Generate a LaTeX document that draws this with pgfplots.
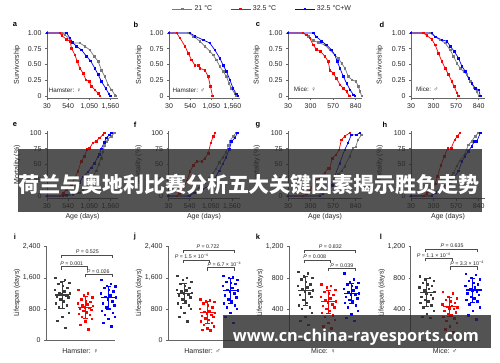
\documentclass[border=0pt]{standalone}
\usepackage{graphicx}
\usepackage{pgfplots}
\pgfplotsset{compat=1.18}
\usepackage{pgfplotstable}
\usepackage{fontspec}
\setmainfont{Liberation Sans}
\newfontfamily\cjk{Noto Sans CJK SC}
\newfontfamily\urlf{Open Sans}
\definecolor{cg}{RGB}{120,120,120}
\definecolor{cgd}{RGB}{60,60,60}
\definecolor{cr}{RGB}{255,0,0}
\definecolor{cb}{RGB}{0,0,255}
\definecolor{band}{RGB}{40,40,40}
\newcommand{\tf}{\fontsize{7}{7.5}\selectfont}
\pgfplotsset{
 base/.style={scale only axis, anchor=south west, axis lines*=left,
   axis line style={black!60, line width=0.5pt}, tick style={black!60, line width=0.5pt},
   major tick length=2pt, tick align=outside,
   ticklabel style={font=\tf, text=black!85},
   /pgf/number format/assume math mode=true,
   every axis y label/.style={at={(axis description cs:-0.42,0.5)}, rotate=90, anchor=center, font=\tf, text=black!85},
   every axis x label/.style={at={(axis description cs:0.5,-0.27)}, anchor=center, font=\tf, text=black!85}},
 sl/.style={line width=0.7pt, mark=square*, mark size=0.75pt, mark options={solid}},
 gr/.style={sl, color=cg},
 rd/.style={sl, color=cr},
 bl/.style={sl, color=cb},
 surv/.style={base, height=67.4pt, ymin=-0.04, ymax=1.03, ytick={0,0.25,0.5,0.75,1}, yticklabels={0,0.25,0.50,0.75,1.00}, ylabel={Survivorship}},
 mort/.style={base, height=67.4pt, ymin=-4, ymax=103, ytick={0,25,50,75,100}, ylabel={Mortality (\%)}, xlabel={Age (days)}},
 ham/.style={width=71pt, xmin=30, xmax=1741, xtick={30,540,1050,1560}, xticklabels={30,540,{1,050},{1,560}}},
 mice/.style={width=74pt, xmin=30, xmax=916, xtick={30,300,570,840}},
 life/.style={base, width=69pt, height=94pt, xmin=0, xmax=3, xtick=\empty, ymin=0, ylabel={Lifespan (days)}, clip=false,
   every axis x label/.style={at={(axis description cs:0.5,-0.117)}, anchor=center, font=\tf, text=black!85}},
 big/.style={ymax=2418, ytick={0,800,1600,2400}, yticklabels={0,800,{1,600},{2,400}}},
 small/.style={ymax=1209, ytick={0,400,800,1200}, yticklabels={0,400,800,{1,200}}},
 dg/.style={only marks, mark=square*, mark size=0.75pt, color=cgd},
 dr/.style={only marks, mark=square*, mark size=0.75pt, color=cr},
 db/.style={only marks, mark=square*, mark size=0.75pt, color=cb},
 mn/.style={only marks, mark=-, mark size=7pt, mark options={line width=1.1pt}},
 sdl/.style={line width=0.7pt, mark=-, mark size=2.5pt, mark options={line width=0.7pt}},
}
\tikzset{br/.style={black!70, line width=0.45pt}, pv/.style={font=\fontsize{5.3}{5.8}\selectfont, anchor=south, inner sep=0.8pt, text=black!85},
 plab/.style={font=\fontsize{7.5}{8}\selectfont\bfseries, anchor=center}, inl/.style={font=\fontsize{6.3}{6.5}\selectfont, anchor=west, inner sep=0.5pt, text=black!85}}

\pgfplotstableread{
j ig ir ib jg jr jb kg kr kb lg lr lb
-0.30 1600 1300 1550 1650 1050 1650 880 720 860 820 620 850
0.12 1550 1200 1450 1600 1030 1620 860 700 780 800 600 840
-0.06 1500 1150 1400 1550 1000 1600 820 680 750 780 560 800
0.31 1480 1100 1380 1500 980 1550 800 650 740 760 540 780
-0.18 1450 1050 1350 1450 950 1500 780 620 720 740 520 760
0.03 1400 1000 1300 1400 900 1480 750 600 700 720 500 740
0.22 1350 980 1250 1350 850 1450 720 580 680 700 480 720
-0.33 1300 950 1200 1300 800 1400 700 560 660 680 460 700
0.09 1250 920 1150 1280 760 1350 680 540 640 660 440 680
-0.12 1220 900 1120 1250 730 1300 660 520 620 640 430 660
0.33 1200 880 1100 1220 700 1280 640 500 600 620 420 650
-0.02 1180 850 1050 1200 680 1250 620 480 590 600 410 640
0.17 1150 830 1000 1180 650 1200 600 460 580 580 400 620
-0.24 1120 800 950 1150 620 1150 580 440 560 560 380 600
0.26 1100 780 900 1100 600 1100 560 420 540 540 360 580
-0.09 1050 750 850 1050 560 1050 520 400 520 520 340 560
0.05 1000 720 800 1000 520 1000 480 380 500 500 320 540
-0.28 950 680 750 950 480 950 450 350 480 480 300 520
0.19 900 650 700 900 450 900 420 320 450 450 280 500
-0.15 850 600 650 850 400 850 400 300 420 420 250 460
0.29 700 550 600 800 350 800 350 260 380 380 220 420
0.00 600 480 550 700 300 700 300 220 330 340 180 380
-0.21 500 400 450 600 270 600 250 180 290 300 140 320
0.14 320 280 350 480 250 450 200 150 250 290 100 270
}\dots

\begin{document}
\begin{tikzpicture}
\fill[white] (0pt,0pt) rectangle (500pt,362pt);

% ---------- row 1 ----------
\begin{axis}[surv, ham, at={(47pt,263.5pt)}, legend columns=3,
  legend style={at={(3.035,1.328)}, anchor=center, draw=none, fill=none, font=\fontsize{7}{8}\selectfont, text=black!85,
    /tikz/every even column/.append style={column sep=16pt}},
  legend image code/.code={\draw[mark repeat=2,mark phase=2,#1] plot coordinates {(0pt,0pt)(10pt,0pt)(20pt,0pt)};}]
\addplot[gr] coordinates {(30,1)(382,1)(462,0.97)(582,0.90)(622,0.84)(822,0.84)(942,0.79)(1062,0.73)(1166,0.63)(1262,0.55)(1342,0.41)(1422,0.31)(1502,0.18)(1582,0.10)(1662,0.02)(1680,0)};
\addplot[rd] coordinates {(30,1)(342,1)(382,0.96)(502,0.90)(582,0.87)(622,0.76)(702,0.65)(758,0.55)(822,0.44)(902,0.36)(966,0.26)(1046,0.23)(1102,0.15)(1182,0.10)(1262,0.04)(1302,0)};
\addplot[bl] coordinates {(30,1)(502,1)(582,0.92)(646,0.85)(742,0.79)(862,0.73)(982,0.63)(1078,0.56)(1182,0.44)(1262,0.34)(1342,0.23)(1446,0.12)(1526,0.03)(1558,0)};
\legend{21 °C, 32.5 °C, 32.5 °C+W}
\node[inl] at (axis description cs:0.015,0.116) {Hamster: ♀};
\end{axis}

\begin{axis}[surv, ham, at={(169pt,263.5pt)}]
\addplot[gr] coordinates {(30,1)(494,1)(614,0.95)(774,0.87)(894,0.79)(1014,0.71)(1094,0.65)(1174,0.57)(1254,0.47)(1334,0.39)(1414,0.31)(1478,0.20)(1534,0.12)(1614,0.04)(1654,0)};
\addplot[rd] coordinates {(30,1)(214,1)(294,0.92)(414,0.79)(494,0.68)(574,0.57)(654,0.49)(734,0.49)(774,0.44)(894,0.41)(974,0.31)(1030,0.15)(1078,0)};
\addplot[bl] coordinates {(30,1)(534,1)(654,0.95)(854,0.89)(1014,0.84)(1134,0.73)(1254,0.60)(1334,0.49)(1414,0.39)(1494,0.26)(1574,0.12)(1654,0.03)(1694,0)};
\node[inl] at (axis description cs:0.04,0.116) {Hamster: ♂};
\end{axis}

\begin{axis}[surv, mice, at={(288pt,263.5pt)}]
\addplot[gr] coordinates {(30,1)(210,1)(271,0.95)(331,0.88)(391,0.85)(471,0.81)(531,0.73)(591,0.65)(632,0.60)(672,0.52)(712,0.44)(752,0.31)(792,0.26)(844,0.23)(872,0.15)(892,0.07)(912,0)};
\addplot[rd] coordinates {(30,1)(210,1)(251,0.97)(291,0.92)(331,0.81)(371,0.74)(419,0.71)(471,0.63)(511,0.55)(531,0.41)(571,0.36)(611,0.28)(652,0.18)(692,0.12)(732,0.07)(764,0)};
\addplot[bl] coordinates {(30,1)(331,1)(371,0.94)(431,0.87)(491,0.81)(551,0.73)(591,0.65)(619,0.55)(652,0.44)(692,0.31)(732,0.20)(772,0.10)(812,0.02)(832,0)};
\node[inl] at (axis description cs:0.07,0.13) {Mice: ♀};
\end{axis}

\begin{axis}[surv, mice, at={(411pt,263.5pt)}]
\addplot[gr] coordinates {(30,1)(259,1)(319,0.94)(379,0.89)(439,0.84)(499,0.73)(539,0.63)(579,0.52)(619,0.44)(660,0.39)(700,0.34)(740,0.23)(780,0.14)(820,0.07)(840,0)};
\addplot[rd] coordinates {(30,1)(178,1)(218,0.96)(279,0.90)(319,0.81)(359,0.68)(399,0.55)(439,0.44)(479,0.34)(519,0.23)(547,0.15)(579,0.05)(599,0)};
\addplot[bl] coordinates {(30,1)(279,1)(319,0.94)(399,0.89)(459,0.87)(499,0.79)(547,0.71)(599,0.60)(640,0.47)(680,0.39)(720,0.28)(760,0.20)(800,0.12)(840,0.10)(860,0)};
\node[inl] at (axis description cs:0.06,0.13) {Mice: ♂};
\end{axis}

% ---------- row 2 ----------
\begin{axis}[mort, ham, at={(47pt,163.5pt)}]
\addplot[gr] coordinates {(30,0)(500,0)(655,2)(815,5)(895,10)(975,15)(1055,22)(1135,30)(1215,40)(1275,50)(1335,60)(1375,70)(1415,80)(1455,86)(1495,90)(1575,95)(1655,100)};
\addplot[rd] coordinates {(30,0)(335,0)(420,4)(495,10)(615,18)(695,28)(775,39)(855,55)(935,63)(991,74)(1055,76)(1135,84)(1215,87)(1295,92)(1375,97)(1415,100)};
\addplot[bl] coordinates {(30,0)(415,0)(500,2)(655,4)(735,10)(815,22)(895,30)(1015,38)(1095,45)(1175,52)(1255,62)(1295,66)(1335,75)(1415,85)(1455,92)(1535,97)(1575,100)};
\end{axis}

\begin{axis}[mort, ham, at={(168.5pt,163.5pt)}]
\addplot[gr] coordinates {(30,0)(494,0)(614,5)(774,13)(894,21)(1014,29)(1094,35)(1174,43)(1254,53)(1334,61)(1414,69)(1478,80)(1510,87)(1590,95)(1654,100)};
\addplot[rd] coordinates {(30,0)(230,0)(290,4)(350,10)(410,16)(470,23)(550,39)(630,49)(710,55)(830,55)(910,60)(990,68)(1046,84)(1110,95)(1150,100)};
\addplot[bl] coordinates {(30,0)(534,0)(654,5)(854,11)(1014,16)(1134,27)(1254,40)(1334,51)(1414,61)(1494,74)(1550,87)(1630,92)(1686,100)};
\end{axis}

\begin{axis}[mort, mice, at={(288pt,163.5pt)}]
\addplot[gr] coordinates {(30,0)(391,0)(431,5)(471,10)(531,18)(591,27)(632,35)(672,40)(708,47)(768,63)(808,76)(840,78)(868,89)(908,97)(928,100)};
\addplot[rd] coordinates {(30,0)(210,0)(251,3)(291,8)(331,19)(371,26)(419,29)(471,37)(511,44)(529,44)(561,60)(601,65)(641,73)(669,89)(708,95)(768,100)};
\addplot[bl] coordinates {(30,0)(410,0)(450,3)(520,10)(560,17)(589,31)(648,52)(708,73)(748,84)(788,97)(848,97)(888,100)};
\end{axis}

\begin{axis}[mort, mice, at={(411pt,163.5pt)}]
\addplot[gr] coordinates {(30,0)(259,0)(319,6)(379,11)(439,16)(499,27)(539,37)(579,48)(614,56)(675,67)(716,81)(757,87)(798,95)(839,100)};
\addplot[rd] coordinates {(30,0)(178,0)(218,4)(279,10)(319,19)(346,31)(388,49)(429,63)(470,76)(511,76)(552,89)(585,95)(614,100)};
\addplot[bl] coordinates {(30,0)(279,0)(319,6)(399,11)(459,13)(499,21)(547,29)(599,40)(640,55)(675,63)(716,71)(757,79)(790,87)(819,87)(860,100)};
\end{axis}

% ---------- row 3 ----------
\begin{axis}[life, big, at={(46pt,22pt)}, xlabel={Hamster: ♀}]
\addplot[dg] table[x expr=\thisrow{j}+0.7, y=ig] {\dots};
\addplot[dr] table[x expr=\thisrow{j}+1.7, y=ir] {\dots};
\addplot[db] table[x expr=\thisrow{j}+2.7, y=ib] {\dots};
\addplot[mn, color=cgd] coordinates {(0.7,1157)};
\addplot[mn, color=cr] coordinates {(1.7,840)};
\addplot[mn, color=cb] coordinates {(2.7,1089)};
\addplot[sdl, color=cgd] coordinates {(0.7,814)(0.7,1500)};
\addplot[sdl, color=cr] coordinates {(1.7,557)(1.7,1114)};
\addplot[sdl, color=cb] coordinates {(2.7,800)(2.7,1380)};
\draw[br] (axis cs:0.65,2110) |- (axis cs:2.9,2186) -- (axis cs:2.9,2110);
\node[pv] at (axis cs:1.8,2186) {\textit{P} = 0.525};
\draw[br] (axis cs:0.65,1810) |- (axis cs:1.8,1886) -- (axis cs:1.8,1810);
\node[pv] at (axis cs:1.12,1886) {\textit{P} = 0.001};
\draw[br] (axis cs:1.7,1613) |- (axis cs:2.9,1689) -- (axis cs:2.9,1613);
\node[pv] at (axis cs:2.27,1689) {\textit{P} = 0.026};
\end{axis}

\begin{axis}[life, big, at={(168pt,22pt)}, xlabel={Hamster: ♂}]
\addplot[dg] table[x expr=\thisrow{j}+0.7, y=jg] {\dots};
\addplot[dr] table[x expr=\thisrow{j}+1.7, y=jr] {\dots};
\addplot[db] table[x expr=\thisrow{j}+2.7, y=jb] {\dots};
\addplot[mn, color=cgd] coordinates {(0.7,1200)};
\addplot[mn, color=cr] coordinates {(1.7,711)};
\addplot[mn, color=cb] coordinates {(2.7,1269)};
\addplot[sdl, color=cgd] coordinates {(0.7,940)(0.7,1460)};
\addplot[sdl, color=cr] coordinates {(1.7,426)(1.7,996)};
\addplot[sdl, color=cb] coordinates {(2.7,949)(2.7,1589)};
\draw[br] (axis cs:0.65,2238) |- (axis cs:2.9,2314) -- (axis cs:2.9,2238);
\node[pv] at (axis cs:1.74,2314) {\textit{P} = 0.722};
\draw[br] (axis cs:0.65,1981) |- (axis cs:1.8,2057) -- (axis cs:1.8,1981);
\node[pv] at (axis cs:1.03,2057) {\textit{P} = 1.5 × 10\textsuperscript{−4}};
\draw[br] (axis cs:1.7,1784) |- (axis cs:2.9,1860) -- (axis cs:2.9,1784);
\node[pv] at (axis cs:2.45,1860) {\textit{P} = 6.7 × 10\textsuperscript{−4}};
\end{axis}

\begin{axis}[life, small, at={(289pt,22pt)}, xlabel={Mice: ♀}]
\addplot[dg] table[x expr=\thisrow{j}+0.7, y=kg] {\dots};
\addplot[dr] table[x expr=\thisrow{j}+1.7, y=kr] {\dots};
\addplot[db] table[x expr=\thisrow{j}+2.7, y=kb] {\dots};
\addplot[mn, color=cgd] coordinates {(0.7,634)};
\addplot[mn, color=cr] coordinates {(1.7,493)};
\addplot[mn, color=cb] coordinates {(2.7,600)};
\addplot[sdl, color=cgd] coordinates {(0.7,444)(0.7,814)};
\addplot[sdl, color=cr] coordinates {(1.7,343)(1.7,643)};
\addplot[sdl, color=cb] coordinates {(2.7,465)(2.7,735)};
\draw[br] (axis cs:0.65,1118) |- (axis cs:2.9,1157) -- (axis cs:2.9,1118);
\node[pv] at (axis cs:1.8,1157) {\textit{P} = 0.832};
\draw[br] (axis cs:0.65,990) |- (axis cs:1.8,1029) -- (axis cs:1.8,990);
\node[pv] at (axis cs:1.12,1029) {\textit{P} = 0.008};
\draw[br] (axis cs:1.7,882) |- (axis cs:2.9,921) -- (axis cs:2.9,882);
\node[pv] at (axis cs:2.3,921) {\textit{P} = 0.039};
\end{axis}

\begin{axis}[life, small, at={(410.7pt,22pt)}, xlabel={Mice: ♂}]
\addplot[dg] table[x expr=\thisrow{j}+0.7, y=lg] {\dots};
\addplot[dr] table[x expr=\thisrow{j}+1.7, y=lr] {\dots};
\addplot[db] table[x expr=\thisrow{j}+2.7, y=lb] {\dots};
\addplot[mn, color=cgd] coordinates {(0.7,609)};
\addplot[mn, color=cr] coordinates {(1.7,429)};
\addplot[mn, color=cb] coordinates {(2.7,643)};
\addplot[sdl, color=cgd] coordinates {(0.7,429)(0.7,789)};
\addplot[sdl, color=cr] coordinates {(1.7,309)(1.7,549)};
\addplot[sdl, color=cb] coordinates {(2.7,488)(2.7,798)};
\draw[br] (axis cs:0.65,1131) |- (axis cs:2.9,1170) -- (axis cs:2.9,1131);
\node[pv] at (axis cs:1.8,1170) {\textit{P} = 0.635};
\draw[br] (axis cs:0.65,1011) |- (axis cs:1.8,1050) -- (axis cs:1.8,1011);
\node[pv] at (axis cs:1.0,1050) {\textit{P} = 1.1 × 10\textsuperscript{−4}};
\draw[br] (axis cs:1.7,904) |- (axis cs:2.9,943) -- (axis cs:2.9,904);
\node[pv] at (axis cs:2.45,943) {\textit{P} = 3.3 × 10\textsuperscript{−4}};
\end{axis}

% panel letters
\node[plab] at (15pt,337pt) {a};
\node[plab] at (136pt,337pt) {b};
\node[plab] at (258pt,337pt) {c};
\node[plab] at (382pt,337pt) {d};
\node[plab] at (15pt,237pt) {e};
\node[plab] at (135pt,237pt) {f};
\node[plab] at (258pt,237pt) {g};
\node[plab] at (385pt,237pt) {h};
\node[plab] at (15pt,125pt) {i};
\node[plab] at (135pt,125pt) {j};
\node[plab] at (258pt,125pt) {k};
\node[plab] at (381pt,125pt) {l};

% overlay banners
\fill[band, opacity=0.8] (18pt,150pt) rectangle (482pt,213pt);
\node[text=white, inner sep=0pt] at (249pt,178pt) {\resizebox{462pt}{!}{\cjk\bfseries 荷兰与奥地利比赛分析五大关键因素揭示胜负走势}};
\fill[band, opacity=0.8] (223pt,14pt) rectangle (491pt,47pt);
\node[text=white, inner sep=0pt, anchor=base] at (356pt,20.3pt) {\resizebox{246pt}{!}{\urlf\bfseries www.cn-china-rayesports.com}};

\pgfresetboundingbox
\path[use as bounding box] (0pt,0pt) rectangle (500pt,362pt);
\end{tikzpicture}
\end{document}
